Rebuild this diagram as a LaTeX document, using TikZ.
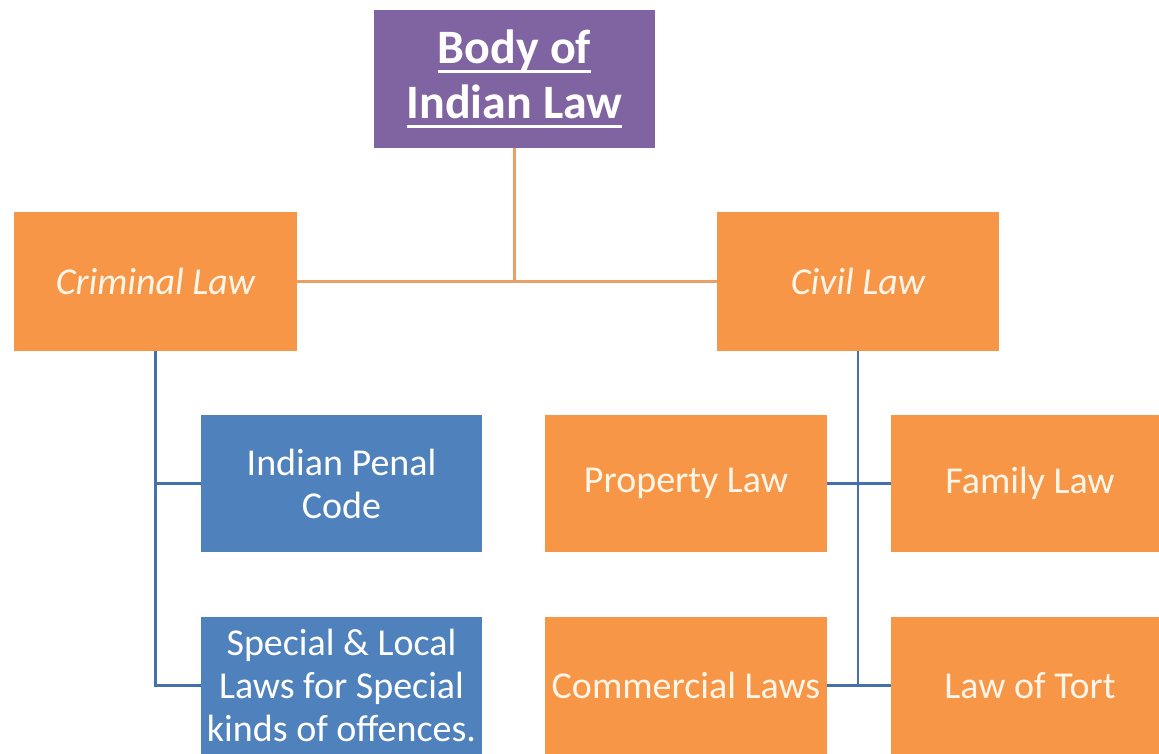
\documentclass[tikz,border=0pt]{standalone}
\usepackage{fontspec}
\setmainfont{Carlito}
\definecolor{purp}{HTML}{8064A2}
\definecolor{orng}{HTML}{F79646}
\definecolor{blu}{HTML}{4F81BD}
\definecolor{oline}{HTML}{E9A067}
\definecolor{bline}{HTML}{4470AE}
\definecolor{cream}{HTML}{FFF6EA}
\newcommand\ulbar[1]{\setbox0\hbox{#1}\rlap{\rule[-9pt]{\wd0}{2.5pt}}\box0}
\tikzset{
  box/.style={rectangle, inner sep=0pt, minimum height=137pt, align=center},
  purpbox/.style={box, fill=purp, text=white, minimum width=281pt, minimum height=138pt,
    font=\fontsize{48}{55}\selectfont\bfseries},
  orbox/.style={box, fill=orng, text=cream, minimum width=282pt, font=\fontsize{38}{43}\selectfont},
  itbox/.style={orbox, minimum height=139pt, font=\fontsize{38}{43}\selectfont\itshape},
  bluebox/.style={box, fill=blu, text=white, minimum width=281pt, font=\fontsize{38}{43}\selectfont},
  oconn/.style={draw=oline, line width=2.5pt},
  bconn/.style={draw=bline, line width=2.5pt},
}
\begin{document}
\begin{tikzpicture}[x=1pt, y=-1pt]
\useasboundingbox (0,0) rectangle (1159,754);
\node[purpbox] (body) at (514.5,79) {\ulbar{Body of}\\\ulbar{Indian Law}};
\node[itbox, minimum width=283pt] (crim) at (155.5,281.5) {Criminal Law};
\node[itbox] (civil) at (858,281.5) {Civil Law};
\node[bluebox] (ipc) at (341.5,483.5) {Indian Penal\\Code};
\node[bluebox] (slb) at (341.5,685.5) {Special \& Local\\Laws for Special\\kinds of offences.};
\node[orbox] (prop) at (686,483.5) {Property Law};
\node[orbox, minimum width=268pt] (fam) at (1025,483.5) {\hspace*{10pt}Family Law};
\node[orbox] (com) at (686,685.5) {Commercial Laws};
\node[orbox, minimum width=268pt] (tort) at (1025,685.5) {\hspace*{10pt}Law of Tort};
\coordinate (junc) at (body.south |- crim.east);
\draw[oconn] (body.south) -- (junc);
\draw[oconn] (crim.east) -- (civil.west);
\draw[bconn] (crim.south) -- (crim.south |- slb.west) -- (slb.west);
\draw[bconn] (crim.south |- ipc.west) -- (ipc.west);
\draw[bconn] (civil.south) -- (civil.south |- com.east);
\draw[bconn] (prop.east) -- (fam.west);
\draw[bconn] (com.east) -- (tort.west);
\end{tikzpicture}
\end{document}
